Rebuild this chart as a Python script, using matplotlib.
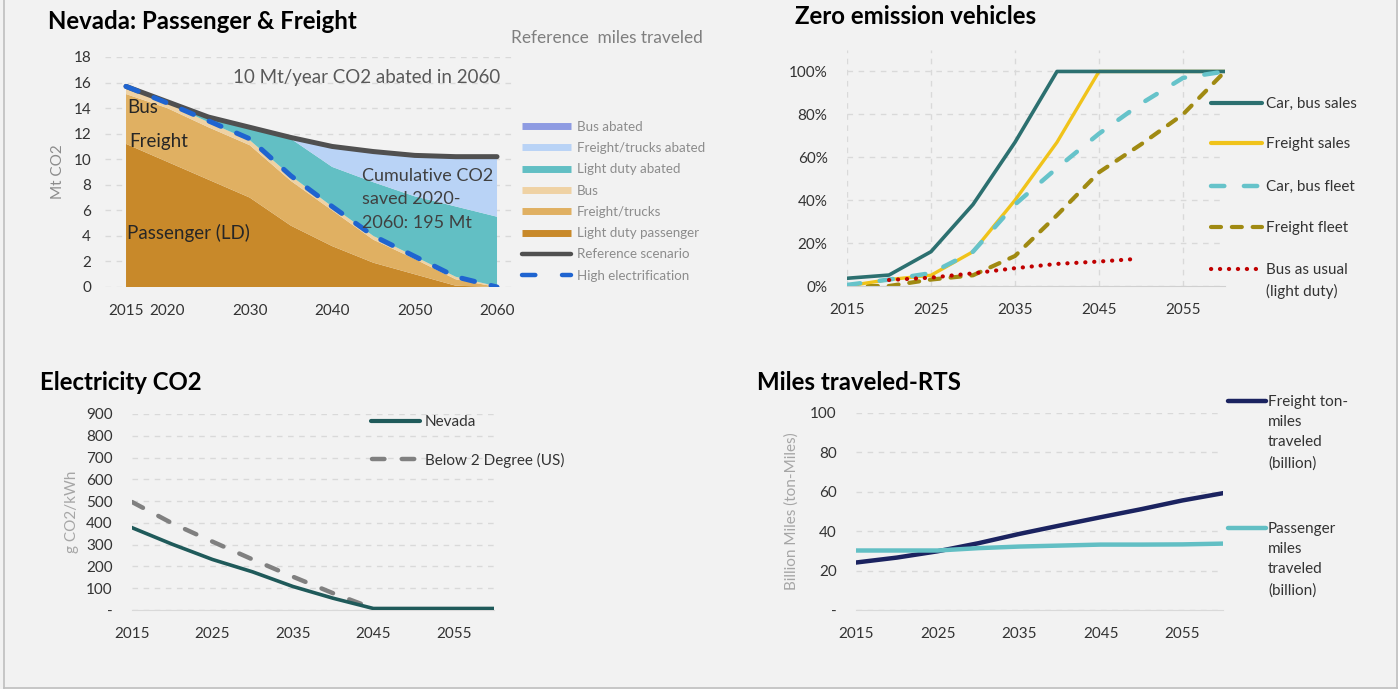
import matplotlib
matplotlib.use('Agg')
import matplotlib.pyplot as plt
from matplotlib.lines import Line2D

plt.rcParams['font.family'] = ['Lato', 'DejaVu Sans']

# ---------------- data ----------------
years = [2015, 2020, 2025, 2030, 2035, 2040, 2045, 2050, 2055, 2060]
ld_passenger = [11.2, 9.8, 8.4, 7.0, 4.8, 3.2, 1.9, 1.0, 0.1, 0.0]
freight_trucks = [3.9, 4.2, 4.1, 4.1, 3.5, 2.8, 1.8, 1.2, 0.5, 0.0]
bus = [0.5, 0.4, 0.4, 0.4, 0.4, 0.3, 0.3, 0.2, 0.2, 0.05]
ld_abated = [0.0, 0.1, 0.4, 1.0, 2.9, 3.1, 4.2, 4.7, 5.5, 5.45]
freight_abated = [0.0, 0.0, 0.0, 0.0, 0.1, 1.6, 2.4, 3.2, 3.9, 4.65]
bus_abated = [0.0, 0.0, 0.0, 0.0, 0.0, 0.02, 0.03, 0.03, 0.04, 0.05]
reference = [15.7, 14.5, 13.3, 12.5, 11.7, 11.0, 10.6, 10.3, 10.2, 10.2]
high_elec = [15.7, 14.4, 13.0, 11.6, 8.7, 6.3, 4.0, 2.4, 0.8, 0.0]
tl_xticks = [2015, 2020, 2030, 2040, 2050, 2060]
tl_yticks = [0, 2, 4, 6, 8, 10, 12, 14, 16, 18]

zev_years = [2015, 2020, 2025, 2030, 2035, 2040, 2045, 2050, 2055, 2060]
car_bus_sales = [3.6, 5.1, 16, 38, 67, 100, 100, 100, 100, 100]
freight_sales = [0.0, 3.0, 5.0, 16, 40, 67, 100, 100, 100, 100]
car_bus_fleet = [0.5, 3.0, 6.0, 16, 38, 55, 71, 85, 97, 100]
freight_fleet = [0.0, 0.0, 3.0, 5.0, 14, 33, 53, 66, 80, 100]
bau_years = [2020, 2025, 2030, 2035, 2040, 2045, 2049]
bus_as_usual = [2.8, 3.9, 5.9, 8.3, 10.3, 11.4, 12.5]
zev_xticks = [2015, 2025, 2035, 2045, 2055]
zev_yticks = [0, 20, 40, 60, 80, 100]

elec_years = [2015, 2020, 2025, 2030, 2035, 2040, 2045, 2050, 2055, 2060]
nevada_co2 = [378, 302, 232, 175, 108, 54, 7, 7, 7, 7]
b2d_years = [2015, 2020, 2025, 2030, 2035, 2040, 2045]
below2_co2 = [496, 398, 314, 232, 153, 77, 7]
elec_yticks = [0, 100, 200, 300, 400, 500, 600, 700, 800, 900]
elec_ylabels = ['-', '100', '200', '300', '400', '500', '600', '700', '800', '900']

rts_years = [2015, 2020, 2025, 2030, 2035, 2040, 2045, 2050, 2055, 2060]
freight_tonmiles = [24.1, 26.6, 29.8, 33.9, 38.6, 42.9, 47.1, 51.2, 55.6, 59.3]
passenger_miles = [30.2, 30.2, 30.2, 31.4, 32.2, 32.7, 33.2, 33.2, 33.3, 33.7]
rts_yticks = [0, 20, 40, 60, 80, 100]
rts_ylabels = ['-', '20', '40', '60', '80', '100']
dec_xticks = [2015, 2025, 2035, 2045, 2055]

# ---------------- figure ----------------
W, H = 1398, 689
BG = '#f2f2f2'
fig = plt.figure(figsize=(W / 100, H / 100), dpi=100, facecolor=BG)

TICKC = '#333333'
GRIDC = '#d9d9d9'
DASHGRID = (0, (4, 4))
TITLE_SIZE = 17.3


def px_axes(x0, x1, ytop, ybot):
    ax = fig.add_axes([x0 / W, 1 - ybot / H, (x1 - x0) / W, (ybot - ytop) / H])
    ax.set_facecolor(BG)
    for s in ax.spines.values():
        s.set_visible(False)
    ax.tick_params(length=0, labelsize=11, colors=TICKC, pad=10)
    ax.tick_params(axis='x', pad=12)
    return ax


def fx(x):
    return x / W


def fy(y):
    return 1 - y / H


def leg_line(x0, x1, y, **kw):
    fig.add_artist(Line2D([fx(x0), fx(x1)], [fy(y), fy(y)], transform=fig.transFigure, **kw))


def txt(x, y, s, size=11, color='#404040', ls=1.2, **kw):
    # y is the vertical centre of the first line (pixels from top)
    fig.text(fx(x), fy(y - 0.40 * size * 1.389), s, fontsize=size, color=color,
             ha='left', va='top', linespacing=ls, **kw)


# ======== Top-left: Nevada passenger & freight ========
ax1 = px_axes(105, 513, 57, 287)
ax1.stackplot(years, ld_passenger, freight_trucks, bus, ld_abated, freight_abated, bus_abated,
              colors=['#C8892A', '#E0B062', '#EFD2A4', '#62BFC4', '#B9D3F6', '#8E9BE2'],
              linewidth=0)
ax1.plot(years, reference, color='#505050', lw=3.6, solid_capstyle='round', zorder=5)
ax1.plot(years, high_elec, color='#1F64D0', lw=3.6, linestyle=(0, (2.6, 3.4)),
         dash_capstyle='round', zorder=6)
ax1.set_xlim(2012.45, 2061.94)
ax1.set_ylim(0, 18)
ax1.set_xticks(tl_xticks)
ax1.set_yticks(tl_yticks)
ax1.yaxis.grid(True, color=GRIDC, linestyle=DASHGRID, lw=1)
ax1.set_axisbelow(True)
ax1.set_ylabel('Mt CO2', fontsize=11, color='#8c8c8c', labelpad=6)

txt(48, 20, 'Nevada: Passenger & Freight', size=TITLE_SIZE, color='#000000', fontweight='bold')
txt(511, 37, 'Reference  miles traveled', size=12.4, color='#7f7f7f')
txt(233, 77, '10 Mt/year CO2 abated in 2060', size=13.5, color='#595959')
txt(127, 107, 'Bus', size=13.5, color='#262626')
txt(129, 141, 'Freight', size=13.5, color='#262626')
txt(127, 231, 'Passenger (LD)', size=13.5, color='#262626')
txt(362, 175, 'Cumulative CO2\nsaved 2020-\n2060: 195 Mt', size=13, color='#404040', ls=1.58)

tl_leg = [
    ('Bus abated', dict(color='#8E9BE2', lw=5, solid_capstyle='butt')),
    ('Freight/trucks abated', dict(color='#B9D3F6', lw=5, solid_capstyle='butt')),
    ('Light duty abated', dict(color='#62BFC4', lw=5, solid_capstyle='butt')),
    ('Bus', dict(color='#EFD2A4', lw=5, solid_capstyle='butt')),
    ('Freight/trucks', dict(color='#E0B062', lw=5, solid_capstyle='butt')),
    ('Light duty passenger', dict(color='#C8892A', lw=5, solid_capstyle='butt')),
    ('Reference scenario', dict(color='#505050', lw=3.2, solid_capstyle='round')),
    ('High electrification', dict(color='#1F64D0', lw=3.2, linestyle=(0, (3.0, 6.0)),
                                  dash_capstyle='round')),
]
for i, (lab, kw) in enumerate(tl_leg):
    y = 126 + i * 21.3
    leg_line(522, 571, y, **kw)
    txt(577, y, lab, size=9.6, color='#8c8c8c')

# ======== Top-right: Zero emission vehicles ========
ax2 = px_axes(847, 1225, 50, 286)
ax2.plot(zev_years, car_bus_sales, color='#2C7070', lw=2.6, zorder=4)
ax2.plot(zev_years, freight_sales, color='#F0C31A', lw=2.4, zorder=3)
ax2.plot(zev_years, car_bus_fleet, color='#66C3CA', lw=3.2, linestyle=(0, (3.0, 4.4)),
         dash_capstyle='round', zorder=5)
ax2.plot(zev_years, freight_fleet, color='#A08A12', lw=3.0, linestyle=(0, (2.4, 2.6)),
         dash_capstyle='round', zorder=2)
ax2.plot(bau_years, bus_as_usual, color='#C00000', lw=3.0, linestyle=(0, (0.05, 2.1)),
         dash_capstyle='round', zorder=6)
ax2.set_xlim(2015, 2060)
ax2.set_ylim(0, 110)
ax2.set_xticks(zev_xticks)
ax2.set_yticks(zev_yticks)
ax2.set_yticklabels([f'{v}%' for v in zev_yticks])
ax2.grid(True, color=GRIDC, linestyle=DASHGRID, lw=1)
ax2.set_axisbelow(True)
ax2.spines['bottom'].set_visible(True)
ax2.spines['bottom'].set_color('#d0d0d0')
ax2.tick_params(axis='y', pad=14)

txt(795, 15, 'Zero emission vehicles', size=TITLE_SIZE, color='#000000', fontweight='bold')

zev_leg = [
    ('Car, bus sales', 103, dict(color='#2C7070', lw=3.0, solid_capstyle='round')),
    ('Freight sales', 143, dict(color='#F0C31A', lw=3.0, solid_capstyle='round')),
    ('Car, bus fleet', 186, dict(color='#66C3CA', lw=3.2, linestyle=(0, (3.0, 4.4)),
                                 dash_capstyle='round')),
    ('Freight fleet', 227, dict(color='#A08A12', lw=3.0, linestyle=(0, (2.4, 2.6)),
                                dash_capstyle='round')),
    ('Bus as usual\n(light duty)', 269, dict(color='#C00000', lw=3.0,
                                              linestyle=(0, (0.05, 2.1)),
                                              dash_capstyle='round')),
]
for lab, y, kw in zev_leg:
    leg_line(1211, 1262, y, **kw)
    txt(1266, y, lab, size=11, color='#333333', ls=1.55)

# ======== Bottom-left: Electricity CO2 ========
ax3 = px_axes(132, 494, 414, 610)
ax3.plot(elec_years, nevada_co2, color='#1F5A5A', lw=2.6, zorder=4)
ax3.plot(b2d_years, below2_co2, color='#808080', lw=3.2, linestyle=(0, (2.8, 3.9)),
         dash_capstyle='round', zorder=3)
ax3.set_xlim(2015, 2060)
ax3.set_ylim(0, 900)
ax3.set_xticks(dec_xticks)
ax3.set_yticks(elec_yticks)
ax3.set_yticklabels(elec_ylabels)
ax3.yaxis.grid(True, color=GRIDC, linestyle=DASHGRID, lw=1)
ax3.set_axisbelow(True)
ax3.spines['bottom'].set_visible(True)
ax3.spines['bottom'].set_color('#d9d9d9')
ax3.tick_params(axis='y', pad=14)
ax3.set_ylabel('g CO2/kWh', fontsize=11, color='#a6a6a6', labelpad=5)

txt(40, 381, 'Electricity CO2', size=TITLE_SIZE, color='#000000', fontweight='bold')
leg_line(371, 420, 421, color='#1F5A5A', lw=3.0, solid_capstyle='round')
txt(425, 421, 'Nevada', size=11, color='#333333')
leg_line(372, 420, 459, color='#808080', lw=3.2, linestyle=(0, (2.8, 3.9)), dash_capstyle='round')
txt(425, 459, 'Below 2 Degree (US)', size=11, color='#333333')

# ======== Bottom-right: Miles traveled-RTS ========
ax4 = px_axes(856, 1223, 413, 610)
ax4.plot(rts_years, freight_tonmiles, color='#1B2360', lw=3.2, zorder=3)
ax4.plot(rts_years, passenger_miles, color='#62BFC4', lw=3.2, zorder=4)
ax4.set_xlim(2015, 2060)
ax4.set_ylim(0, 100)
ax4.set_xticks(dec_xticks)
ax4.set_yticks(rts_yticks)
ax4.set_yticklabels(rts_ylabels)
ax4.yaxis.grid(True, color=GRIDC, linestyle=DASHGRID, lw=1)
ax4.set_axisbelow(True)
ax4.spines['bottom'].set_visible(True)
ax4.spines['bottom'].set_color('#d9d9d9')
ax4.tick_params(axis='y', pad=14)
ax4.set_ylabel('Billion Miles (ton-Miles)', fontsize=11, color='#a6a6a6', labelpad=8)

txt(757, 381, 'Miles traveled-RTS', size=TITLE_SIZE, color='#000000', fontweight='bold')
leg_line(1228, 1266, 401, color='#1B2360', lw=3.2, solid_capstyle='round')
txt(1268, 401, 'Freight ton-\nmiles\ntraveled\n(billion)', size=11, color='#333333', ls=1.57)
leg_line(1228, 1266, 528, color='#62BFC4', lw=3.2, solid_capstyle='round')
txt(1268, 528, 'Passenger\nmiles\ntraveled\n(billion)', size=11, color='#333333', ls=1.57)

# frame
for xs, ys in [([4, 4], [0, 688]), ([4, 1397], [688, 688]), ([1397, 1397], [0, 688])]:
    fig.add_artist(Line2D([fx(v) for v in xs], [fy(v) for v in ys], transform=fig.transFigure,
                          color='#bfbfbf', lw=1.2))

fig.savefig('out.png', dpi=100, facecolor=BG)
